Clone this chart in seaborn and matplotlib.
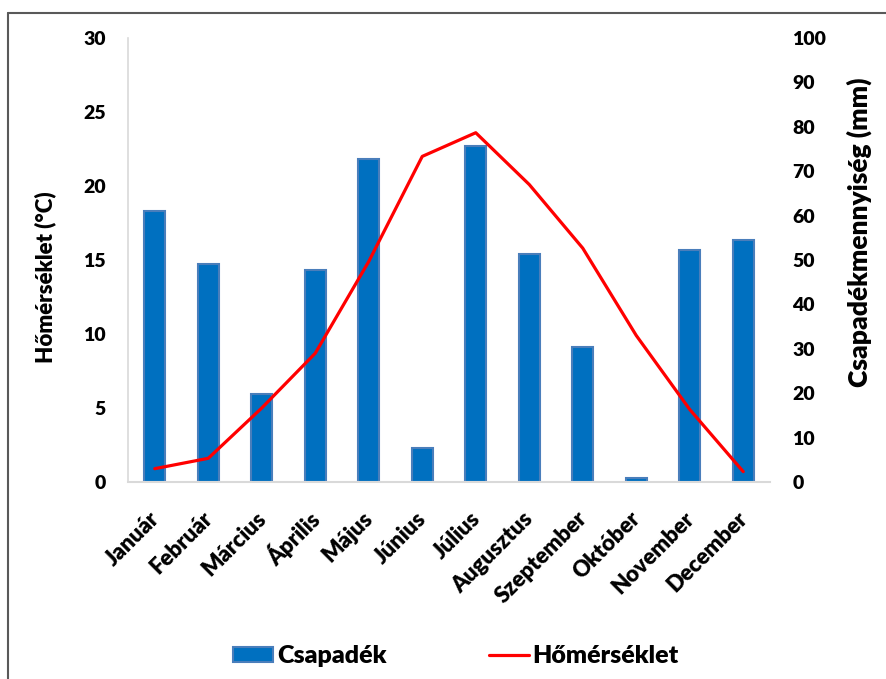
import numpy as np
import matplotlib
matplotlib.use("Agg")
import matplotlib.pyplot as plt
import matplotlib.transforms as mtransforms
from matplotlib.patches import Patch
from matplotlib.lines import Line2D
import seaborn as sns

# Monthly climate data
months = ["Január", "Február", "Március", "Április", "Május", "Június",
          "Július", "Augusztus", "Szeptember", "Október", "November", "December"]
precip_mm = [61.0, 49.1, 19.9, 47.7, 72.8, 7.6, 75.7, 51.4, 30.3, 0.8, 52.3, 54.6]
temp_c = [0.9, 1.6, 5.0, 8.7, 14.9, 22.0, 23.6, 20.1, 15.8, 9.9, 4.9, 0.7]

temp_ticks = [0, 5, 10, 15, 20, 25, 30]
precip_ticks = [0, 10, 20, 30, 40, 50, 60, 70, 80, 90, 100]

BAR_FILL = "#0070C0"
BAR_EDGE = "#4A7EBB"
LINE_RED = "#FF0000"
SPINE = "#D9D9D9"
WEIGHT = "heavy"

sns.set_theme(style="white")
plt.rcParams["font.family"] = ["Lato", "DejaVu Sans"]
plt.rcParams["font.weight"] = WEIGHT
plt.rcParams["text.color"] = "black"

fig = plt.figure(figsize=(8.87, 6.79), dpi=100)
ax = fig.add_axes([128 / 887, 1 - 482 / 679, (770 - 128) / 887, (482 - 38) / 679])
ax2 = ax.twinx()

# precipitation bars on the right-hand axis
sns.barplot(x=months, y=precip_mm, ax=ax2, color=BAR_FILL, saturation=1,
            width=0.4, edgecolor=BAR_EDGE, linewidth=1.5)

# temperature line on the left-hand axis, drawn above the bars
ax.set_zorder(ax2.get_zorder() + 1)
ax.patch.set_visible(False)
sns.lineplot(x=np.arange(len(months)), y=temp_c, ax=ax, color=LINE_RED,
             linewidth=2.3, sort=False)

ax.set_xlim(-0.5, len(months) - 0.5)
ax2.set_xlim(-0.5, len(months) - 0.5)
ax.set_ylim(0, 30)
ax2.set_ylim(0, 100)
ax.set_yticks(temp_ticks)
ax2.set_yticks(precip_ticks)
ax.set_xticks(np.arange(len(months)))
ax.set_xticklabels(months)
for a in (ax, ax2):
    a.set_xlabel("")
    a.set_ylabel("")
    a.grid(False)

ax.tick_params(axis="y", length=0, pad=16, labelsize=14, labelcolor="black")
ax2.tick_params(axis="y", length=0, pad=16, labelsize=14, labelcolor="black")
ax.tick_params(axis="x", length=0, pad=24, labelsize=16, labelcolor="black")
for lbl in ax.get_yticklabels() + ax2.get_yticklabels():
    lbl.set_fontweight(WEIGHT)

shift = mtransforms.ScaledTranslation(1 / 100, 0, fig.dpi_scale_trans)
for lbl in ax.get_xticklabels():
    lbl.set_rotation(45)
    lbl.set_ha("right")
    lbl.set_va("center")
    lbl.set_rotation_mode("anchor")
    lbl.set_fontweight(WEIGHT)
    lbl.set_transform(lbl.get_transform() + shift)

for a in (ax, ax2):
    for side in ("top", "right", "left"):
        a.spines[side].set_visible(False)
ax.spines["left"].set_visible(True)
ax.spines["left"].set_color(SPINE)
ax.spines["left"].set_linewidth(1.2)
ax.spines["bottom"].set_color(SPINE)
ax.spines["bottom"].set_linewidth(1.5)
ax2.spines["bottom"].set_visible(False)

fig.text(45 / 887, 1 - 277 / 679, "Hőmérséklet (°C)", rotation=90,
         ha="center", va="center", fontsize=16, fontweight=WEIGHT)
fig.text(859 / 887, 1 - 232 / 679, "Csapadékmennyiség (mm)", rotation=90,
         ha="center", va="center", fontsize=19, fontweight=WEIGHT)

handles = [Patch(facecolor=BAR_FILL, edgecolor=BAR_EDGE, linewidth=1.5),
           Line2D([], [], color=LINE_RED, linewidth=2.3)]
fig.legend(handles, ["Csapadék", "Hőmérséklet"], loc="center",
           bbox_to_anchor=(456 / 887, 1 - 656 / 679), ncol=2, frameon=False,
           prop={"weight": WEIGHT, "size": 18}, handlelength=1.6,
           handleheight=0.55, handletextpad=0.15, columnspacing=4.1)

# frame edges along the top and left of the figure
fig.add_artist(Line2D([8.5 / 887, 8.5 / 887], [0, 1 - 13 / 679],
                      transform=fig.transFigure, color="#595959", linewidth=1.5))
fig.add_artist(Line2D([8.5 / 887, 1], [1 - 13 / 679, 1 - 13 / 679],
                      transform=fig.transFigure, color="#595959", linewidth=1.5))

fig.savefig("out.png", dpi=100)
